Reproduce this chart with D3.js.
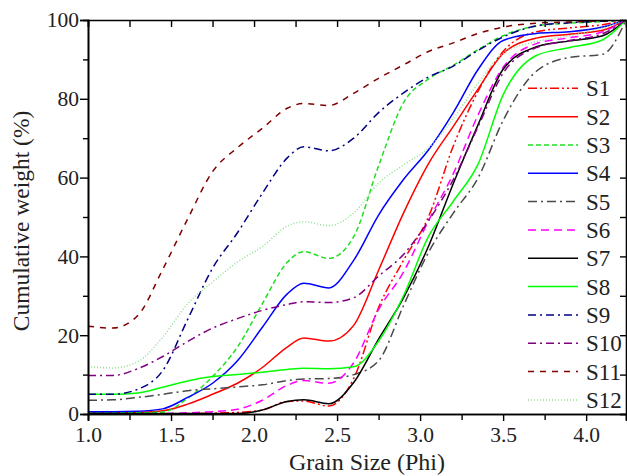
<!DOCTYPE html>
<html>
<head>
<meta charset="utf-8">
<script src="https://cdn.jsdelivr.net/npm/d3@7"></script>
<style>
	body { margin: 0; background: #fff; }
	svg { display: block; font-family: "Liberation Serif", "Times New Roman", serif; }
</style>
</head>
<body>
<div id="chart"></div>
<script>

// grain size (phi) sample points shared by all series
var phi = [1.0, 1.15, 1.3, 1.45, 1.6, 1.75, 1.9, 2.05, 2.2, 2.3, 2.45, 2.6, 2.75, 2.9, 3.05, 3.2, 3.35, 3.5, 3.7, 3.9, 4.1, 4.24];

// cumulative weight (%) per sample
var s1  = [0, 0, 0, 0, 0.1, 0.2, 0.4, 1.0, 3.2, 3.3, 2.0, 9, 27, 39, 50, 68, 82, 92, 97, 98, 98.8, 100];
var s2  = [0.3, 0.3, 0.4, 0.8, 2.5, 5, 7.8, 11.8, 17, 19.3, 18.5, 22.5, 36.5, 51, 63.5, 73, 82.5, 91.5, 95.4, 96.4, 97.4, 100];
var s3  = [0.3, 0.3, 0.3, 0.5, 4, 9.5, 17, 28, 38.5, 41.2, 39.5, 45, 63, 79, 85, 88.5, 92.5, 96, 98.5, 99.2, 99.6, 100];
var s4  = [0.6, 0.6, 0.7, 1.3, 4.2, 7.8, 13.5, 22, 30.5, 33.2, 32, 39, 50.5, 59.5, 67, 76.5, 87.5, 94.8, 96.6, 97, 98.2, 100];
var s5  = [3.5, 3.6, 4.2, 5, 5.9, 6.4, 6.9, 7.4, 8.5, 8.9, 9, 10, 13.5, 27.5, 41, 51, 60, 74.5, 87, 90.5, 91.3, 100];
var s6  = [0, 0, 0, 0.1, 0.3, 0.6, 1.2, 3.5, 7.3, 8.5, 7.8, 13, 26.5, 36, 49, 61, 76, 88, 94, 95.5, 97, 100];
var s7  = [0.1, 0.1, 0.1, 0.1, 0.1, 0.1, 0.1, 1.0, 3.2, 3.6, 2.6, 8, 19, 29.5, 42.5, 58.5, 73.5, 87.5, 93.2, 94.7, 96, 100];
var s8  = [5, 5, 5.3, 6.8, 8.4, 9.5, 10, 10.6, 11.3, 11.6, 11.5, 12, 18.5, 30, 45, 54, 63.5, 81, 91, 93, 95, 100];
var s9  = [5, 5, 6.3, 11, 24, 37, 46, 56, 65, 67.8, 66.8, 70, 76.5, 81.5, 85.5, 88.3, 92.3, 95.7, 98.5, 99.3, 99.7, 100];
var s10 = [9.8, 9.8, 11.5, 14.6, 18.4, 21.8, 24.2, 26.3, 27.8, 28.5, 28.3, 29.5, 35, 40.5, 49, 59.5, 73, 86.5, 93, 94.8, 96.5, 100];
var s11 = [22.3, 21.8, 25, 36.7, 49.5, 61.5, 67.6, 72.5, 77.6, 78.8, 78.3, 81.4, 85.2, 88.6, 92, 94.2, 96.6, 98.2, 99.2, 99.5, 99.8, 100];
var s12 = [12, 11.7, 13.3, 19.5, 28, 33.5, 38.6, 42.5, 47.7, 48.8, 47.8, 51, 58.6, 63.2, 67.5, 75, 84, 91.5, 94.5, 96, 98, 100];

var seriesNames = ["S1", "S2", "S3", "S4", "S5", "S6", "S7", "S8", "S9", "S10", "S11", "S12"];

// axis ticks
var xMajorTicks = [1.0, 1.5, 2.0, 2.5, 3.0, 3.5, 4.0];
var xMinorTicks = [1.25, 1.75, 2.25, 2.75, 3.25, 3.75];
var yMajorTicks = [0, 20, 40, 60, 80, 100];
var yMinorTicks = [10, 30, 50, 70, 90];

var series = [s1, s2, s3, s4, s5, s6, s7, s8, s9, s10, s11, s12];

var styles = [
	{ color: "#ff0000", dash: "9,3,2,3,2,3" },
	{ color: "#ff0000", dash: null },
	{ color: "#1ee01e", dash: "5,3" },
	{ color: "#0000ff", dash: null },
	{ color: "#4a4a4a", dash: "9,4,2,4" },
	{ color: "#ff00ff", dash: "8,5" },
	{ color: "#000000", dash: null },
	{ color: "#00ff00", dash: null },
	{ color: "#000080", dash: "8,4,2,4" },
	{ color: "#800080", dash: "8,4,2,4" },
	{ color: "#800000", dash: "6,6" },
	{ color: "#90e090", dash: "1,2" }
];

var fontStack = "\"Liberation Serif\", \"Times New Roman\", serif";
var width = 627, height = 476;
var plot = { left: 88, right: 626, top: 20, bottom: 414 };

var svg = d3.select("#chart")
	.append("svg")
	.attr("width", width)
	.attr("height", height);

var x = d3.scaleLinear().domain([1, 4.24]).range([plot.left, plot.right]);
var y = d3.scaleLinear().domain([0, 100]).range([plot.bottom, plot.top]);

svg.append("clipPath")
	.attr("id", "plot-clip")
	.append("rect")
	.attr("x", plot.left)
	.attr("y", plot.top)
	.attr("width", plot.right - plot.left)
	.attr("height", plot.bottom - plot.top);

// draw the curves
var line = d3.line()
	.x(function (d, i) { return x(phi[i]); })
	.y(function (d) { return y(d); })
	.curve(d3.curveMonotoneX);

svg.append("g")
	.attr("clip-path", "url(#plot-clip)")
	.selectAll("path.series")
	.data(series)
	.enter()
		.append("path")
		.attr("class", "series")
		.attr("fill", "none")
		.attr("stroke-width", 1.5)
		.attr("stroke", function (d, i) { return styles[i].color; })
		.attr("stroke-dasharray", function (d, i) { return styles[i].dash; })
		.attr("d", line);

// axes
function styleAxis(g) {
	g.attr("font-family", fontStack).attr("font-size", 21.5);
	g.select(".domain").attr("stroke", "#000").attr("stroke-width", 1.6);
	g.selectAll(".tick line").attr("stroke", "#000").attr("stroke-width", 1.4);
	g.selectAll(".tick text").attr("fill", "#222");
}

svg.append("g")
	.attr("transform", "translate(0," + plot.bottom + ")")
	.call(d3.axisBottom(x).tickValues(xMajorTicks).tickSize(7).tickPadding(6).tickFormat(d3.format(".1f")))
	.call(styleAxis);

svg.append("g")
	.attr("transform", "translate(0," + plot.bottom + ")")
	.call(d3.axisBottom(x).tickValues(xMinorTicks).tickSize(6).tickFormat(""))
	.call(styleAxis);

svg.append("g")
	.attr("transform", "translate(0," + plot.top + ")")
	.call(d3.axisTop(x).tickValues(xMajorTicks.concat(xMinorTicks)).tickSize(-7).tickFormat(""))
	.call(styleAxis);

svg.append("g")
	.attr("transform", "translate(" + plot.left + ",0)")
	.call(d3.axisLeft(y).tickValues(yMajorTicks).tickSize(8).tickPadding(1))
	.call(styleAxis);

svg.append("g")
	.attr("transform", "translate(" + plot.left + ",0)")
	.call(d3.axisLeft(y).tickValues(yMinorTicks).tickSize(5).tickFormat(""))
	.call(styleAxis);

svg.append("g")
	.attr("transform", "translate(" + plot.right + ",0)")
	.call(d3.axisRight(y).tickValues(yMajorTicks.concat(yMinorTicks)).tickSize(-6).tickFormat(""))
	.call(styleAxis);

// axis titles
svg.append("text")
	.attr("x", 367)
	.attr("y", 470)
	.attr("text-anchor", "middle")
	.attr("fill", "#222")
	.style("font-size", "24px")
	.text("Grain Size (Phi)");

svg.append("text")
	.attr("transform", "translate(29,221) rotate(-90)")
	.attr("text-anchor", "middle")
	.attr("fill", "#222")
	.style("font-size", "23.5px")
	.text("Cumulative weight (%)");

// legend
var legend = svg.append("g")
	.selectAll("g.entry")
	.data(seriesNames)
	.enter()
		.append("g")
		.attr("class", "entry")
		.attr("transform", function (d, i) { return "translate(528," + (88.3 + i * 28.33) + ")"; });

legend.append("line")
	.attr("x1", 0)
	.attr("x2", 50)
	.attr("stroke-width", 1.5)
	.attr("stroke", function (d, i) { return styles[i].color; })
	.attr("stroke-dasharray", function (d, i) { return styles[i].dash; });

legend.append("text")
	.attr("x", 58)
	.attr("y", 8)
	.attr("fill", "#222")
	.style("font-size", "23px")
	.text(function (d) { return d; });

</script>
</body>
</html>
